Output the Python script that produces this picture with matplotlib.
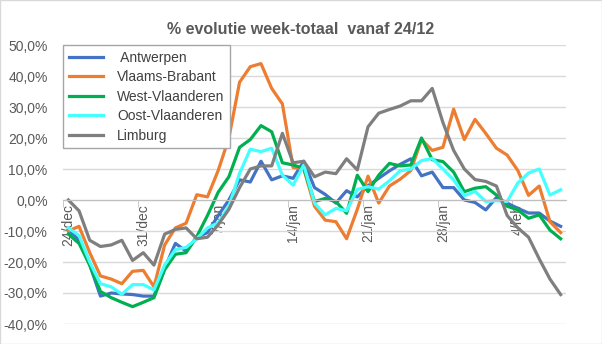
import numpy as np
import matplotlib.pyplot as plt
import matplotlib.ticker as mticker
from matplotlib.patches import Rectangle

plt.rcParams['font.family'] = ['Liberation Sans', 'DejaVu Sans']

# 24/dec .. 8/feb, one value per day (percent)
tick_labels = ['24/dec', '31/dec', '7/jan', '14/jan', '21/jan', '28/jan', '4/feb']

antwerpen = [-9.5, -13, -21, -31, -30, -30.3, -30.5, -31, -31, -22, -14, -16.5,
             -12, -10.5, -5, 0, 6.5, 5.8, 12.5, 6.5, 7.8, 7, 12.5, 4,
             1.8, -1, 3, 1, 4.6, 7, 9.4, 11.5, 13.3, 7.8, 9, 4,
             4, 0, -0.8, -3.2, 0.8, -1, -2.7, -4.2, -4.2, -6.8, -8.5]
vlaams_brabant = [-10, -8.5, -17, -24.5, -25.5, -27, -23, -22.7, -28, -14.5, -9, -7.5,
                  1.7, 1, 9.5, 20, 38, 43, 44, 36, 31, 10.5, 10, -2,
                  -6.5, -7, -12.5, -3, 7.7, -1, 4.5, 6.7, 9.5, 19.5, 16, 17,
                  29.3, 19.5, 26, 21.5, 16.7, 14.5, 9.5, 1.5, 4.5, -7, -10.5]
west_vlaanderen = [-11, -14, -21, -29.5, -31.5, -33, -34.4, -33, -31.5, -22.5, -17.5, -17,
                   -11.8, -5, 2.5, 7.5, 17, 19.5, 24, 22, 12, 11.3, 10.2, -0.5,
                   0.5, -0.5, -4.3, 8, 2.7, 8, 11.8, 11, 11.3, 20, 13, 12.4,
                   9, 2.7, 3.8, 4.3, 1.6, -2, -3.2, -5.9, -4.8, -9.7, -12.5]
oost_vlaanderen = [-9, -11.5, -20, -27, -28, -30.4, -27.3, -27.3, -29, -21, -16, -15.3,
                   -12.5, -9, -7.4, -2, 8.6, 16.4, 15.6, 16.7, 8, 4.8, 11.3, -1,
                   -4.8, -2.7, -3.5, 3.4, 4.3, 3.5, 6.2, 9.4, 10, 12.7, 13.4, 10,
                   6.5, 1.4, 2.8, -0.5, -0.2, -0.5, 5.5, 8.7, 10, 1.6, 3.3]
limburg = [0, -3.5, -13, -15, -14.5, -13, -19.5, -17, -21, -11, -9.5, -9,
           -12.5, -12, -8, -3, 4, 10, 11, 11, 21.5, 12, 12.5, 7.5,
           9, 8.5, 13.3, 9.7, 23.6, 28, 29.2, 30.3, 32, 32, 36, 25,
           16, 10, 6.6, 6, 4.5, -5, -9, -12, -19, -25.5, -30.5]

series = [(' Antwerpen', antwerpen, '#4472C4'),
          ('Vlaams-Brabant', vlaams_brabant, '#ED7D31'),
          ('West-Vlaanderen', west_vlaanderen, '#00B050'),
          ('Oost-Vlaanderen', oost_vlaanderen, '#45FFFF'),
          ('Limburg', limburg, '#7F7F7F')]

fig = plt.figure(figsize=(6.02, 3.44), dpi=100)
ax = fig.add_axes([63/602, 1 - 324/344, 503/602, 279/344])
fig.patches.append(Rectangle((0, 0), 1, 1, transform=fig.transFigure,
                             fill=False, edgecolor='#d9d9d9', lw=1))

days = np.arange(len(limburg))
for name, vals, col in series:
    ax.plot(days, np.array(vals) / 100, color=col, lw=2.3, label=name,
            solid_joinstyle='round')

ax.set_xlim(-0.5, len(days) - 0.5)
ax.set_ylim(-0.4, 0.5)
ax.set_yticks(np.arange(-0.4, 0.51, 0.1))
ax.yaxis.set_major_formatter(mticker.FuncFormatter(
    lambda v, p: ('%.1f%%' % (v * 100)).replace('.', ',').replace('-0,0', '0,0')))
ax.grid(axis='y', color='#d9d9d9', lw=1)
ax.set_axisbelow(True)

for s in ['left', 'right', 'top']:
    ax.spines[s].set_visible(False)
ax.spines['bottom'].set_position(('data', 0))
ax.spines['bottom'].set_color('#bfbfbf')

ax.set_xticks(np.arange(0, len(days), 7))
ax.set_xticklabels(tick_labels, rotation=90, va='top', ha='center')
ax.set_xticks(np.arange(-0.5, len(days), 7), minor=True)
ax.tick_params(axis='x', which='major', length=0, pad=3, labelsize=10, labelcolor='#595959')
ax.tick_params(axis='x', which='minor', length=5, direction='out', color='#bfbfbf')
ax.tick_params(axis='y', length=0, pad=11, labelsize=10, labelcolor='#595959')

leg = ax.legend(loc='upper left', bbox_to_anchor=(0, 1), borderaxespad=0,
                fontsize=10, handlelength=2.5, handletextpad=1.0,
                labelspacing=0.4, fancybox=False, framealpha=1,
                edgecolor='#a6a6a6', borderpad=0.4)
for t in leg.get_texts():
    t.set_color('#404040')
leg.get_frame().set_linewidth(1)

fig.text(0.5, 1 - 29/344, '% evolutie week-totaal  vanaf 24/12', ha='center', va='center',
         fontsize=11.5, fontweight='bold', color='#595959')

fig.savefig('out.png', dpi=100)
